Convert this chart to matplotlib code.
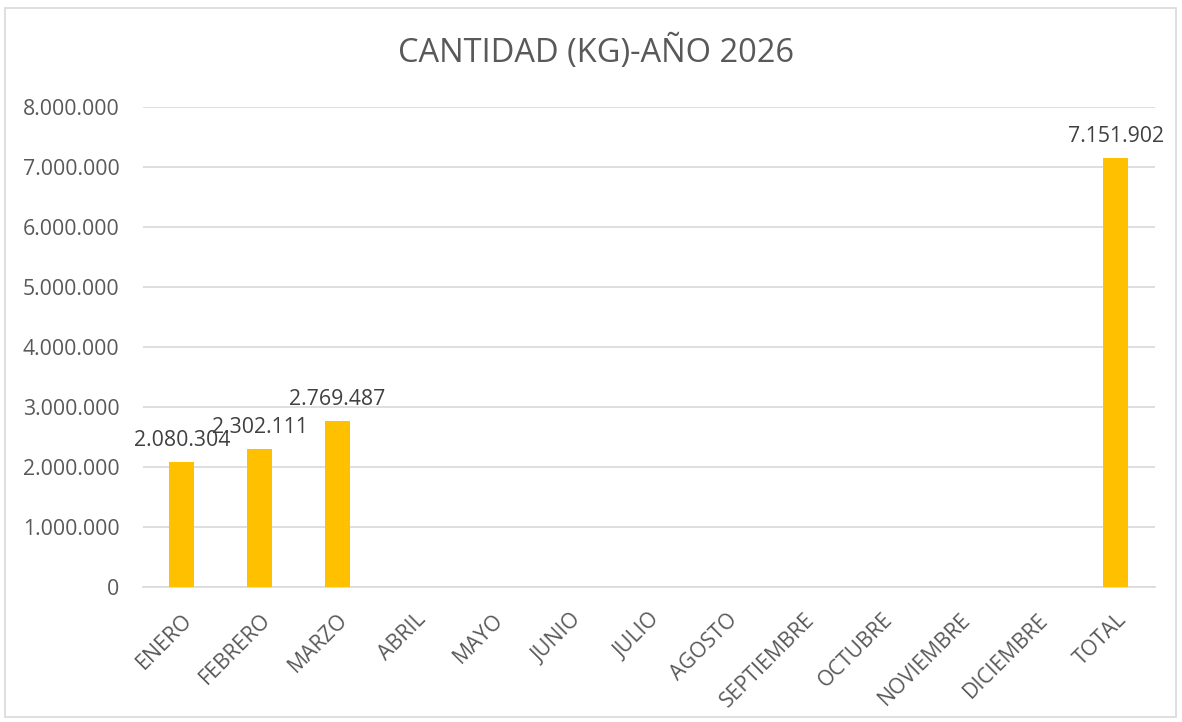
import numpy as np
import matplotlib.pyplot as plt
from matplotlib.patches import Rectangle
from matplotlib.ticker import FuncFormatter

# datos
meses = ["ENERO", "FEBRERO", "MARZO", "ABRIL", "MAYO", "JUNIO", "JULIO",
         "AGOSTO", "SEPTIEMBRE", "OCTUBRE", "NOVIEMBRE", "DICIEMBRE", "TOTAL"]
cantidad = [2080304, 2302111, 2769487, 0, 0, 0, 0, 0, 0, 0, 0, 0, 7151902]

plt.rcParams['font.family'] = ['Open Sans', 'DejaVu Sans']
gris = "#595959"


def miles(v, pos=None):
    return f"{int(v):,}".replace(",", ".")


fig = plt.figure(figsize=(11.82, 7.22), dpi=100)
fig.patches.append(Rectangle((5 / 1182, 5 / 722), 1171 / 1182, 709 / 722,
                             transform=fig.transFigure, fill=False,
                             edgecolor="#D9D9D9", linewidth=1.2))
ax = fig.add_axes([0.121, 0.187, 0.856, 0.665])

x = np.arange(len(meses))
ax.bar(x, cantidad, width=0.32, color="#FFC000", zorder=3)

for xi, v in zip(x, cantidad):
    if v > 0:
        ax.annotate(miles(v), (xi, v), xytext=(0, 8), textcoords="offset points",
                    ha="center", va="bottom", fontsize=15.3, color="#404040")

ax.set_xlim(-0.5, len(meses) - 0.5)
ax.set_ylim(0, 8000000)
ax.set_yticks(np.arange(0, 8000001, 1000000))
ax.yaxis.set_major_formatter(FuncFormatter(miles))
ax.grid(axis="y", color="#D9D9D9", linewidth=1.2, zorder=0)

ax.set_xticks(x)
ax.set_xticklabels(meses, rotation=45, ha="right", rotation_mode="anchor")
ax.tick_params(axis="both", length=0, labelsize=15.3, labelcolor=gris)
ax.tick_params(axis="y", pad=17)
ax.tick_params(axis="x", pad=16)

for s in ["top", "right", "left"]:
    ax.spines[s].set_visible(False)
ax.spines["bottom"].set_color("#D9D9D9")
ax.spines["bottom"].set_linewidth(1.2)

fig.text(596 / 1182, 1 - 52 / 722, "CANTIDAD (KG)-AÑO 2026", ha="center",
         va="center", fontsize=23.5, color=gris)

fig.savefig("out.png", dpi=100)
